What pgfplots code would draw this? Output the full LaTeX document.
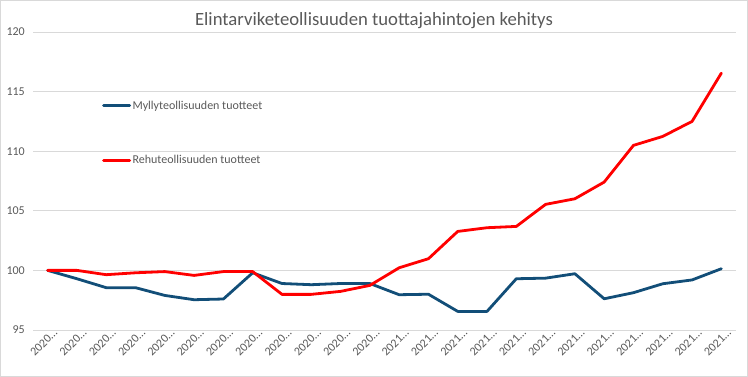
\documentclass[border=0pt]{standalone}
\usepackage{fontspec}
\setmainfont{Carlito}
\usepackage{pgfplots}
\pgfplotsset{compat=1.18}
\definecolor{myblue}{HTML}{124E78}
\definecolor{myred}{HTML}{FF0000}
\definecolor{gridc}{HTML}{D9D9D9}
\definecolor{txt}{HTML}{595959}
\begin{document}
\begin{tikzpicture}
\useasboundingbox (0bp,0bp) rectangle (748bp,377bp);
\draw[gridc, line width=1bp] (0.5bp,0.5bp) rectangle (747.5bp,376.5bp);
\node[text=txt, font=\fontsize{18.7bp}{22bp}\selectfont] at (374bp,356bp) {Elintarviketeollisuuden tuottajahintojen kehitys};
\begin{axis}[
  at={(33bp,47bp)}, anchor=south west,
  width=703bp, height=298bp, scale only axis,
  xmin=-0.5, xmax=23.5, ymin=95, ymax=120,
  ytick={95,100,...,120},
  ymajorgrids, grid style={gridc, line width=0.75bp},
  axis line style={draw=none},
  major tick length=0pt,
  xtick={0,...,23},
  xticklabels={2020…,2020…,2020…,2020…,2020…,2020…,2020…,2020…,2020…,2020…,2020…,2020…,2021…,2021…,2021…,2021…,2021…,2021…,2021…,2021…,2021…,2021…,2021…,2021…},
  xticklabel style={rotate=45, anchor=east, font=\fontsize{12bp}{14bp}\selectfont, text=txt, inner sep=1bp, xshift=6bp, yshift=-6bp},
  yticklabel style={anchor=east, font=\fontsize{12bp}{14bp}\selectfont, text=txt, inner sep=0pt, xshift=-8bp},
  /pgf/number format/assume math mode=true,
  legend style={at={(0.0982,0.775)}, anchor=north west, draw=none, fill=none,
    font=\fontsize{12bp}{14bp}\selectfont, text=txt, row sep=42bp, inner sep=0pt,
    nodes={inner sep=1.5bp}},
  legend cell align=left,
  legend image code/.code={\draw[#1, line width=2.8bp] (0bp,0bp) -- (26bp,0bp);},
]
\addplot[myblue, line width=2.8bp, line join=round, line cap=round] coordinates {
(0,100) (1,99.3) (2,98.55) (3,98.55) (4,97.9) (5,97.54) (6,97.6) (7,99.8)
(8,98.9) (9,98.8) (10,98.9) (11,98.9) (12,97.96) (13,98.0) (14,96.56) (15,96.56)
(16,99.3) (17,99.35) (18,99.72) (19,97.62) (20,98.13) (21,98.88) (22,99.2) (23,100.14)};
\addlegendentry{Myllyteollisuuden tuotteet}
\addplot[myred, line width=2.8bp, line join=round, line cap=round] coordinates {
(0,100) (1,100) (2,99.64) (3,99.8) (4,99.9) (5,99.58) (6,99.9) (7,99.9)
(8,97.99) (9,97.99) (10,98.24) (11,98.74) (12,100.22) (13,100.98) (14,103.27) (15,103.58)
(16,103.69) (17,105.54) (18,106.01) (19,107.41) (20,110.49) (21,111.24) (22,112.5) (23,116.55)};
\addlegendentry{Rehuteollisuuden tuotteet}
\end{axis}
\end{tikzpicture}
\end{document}
